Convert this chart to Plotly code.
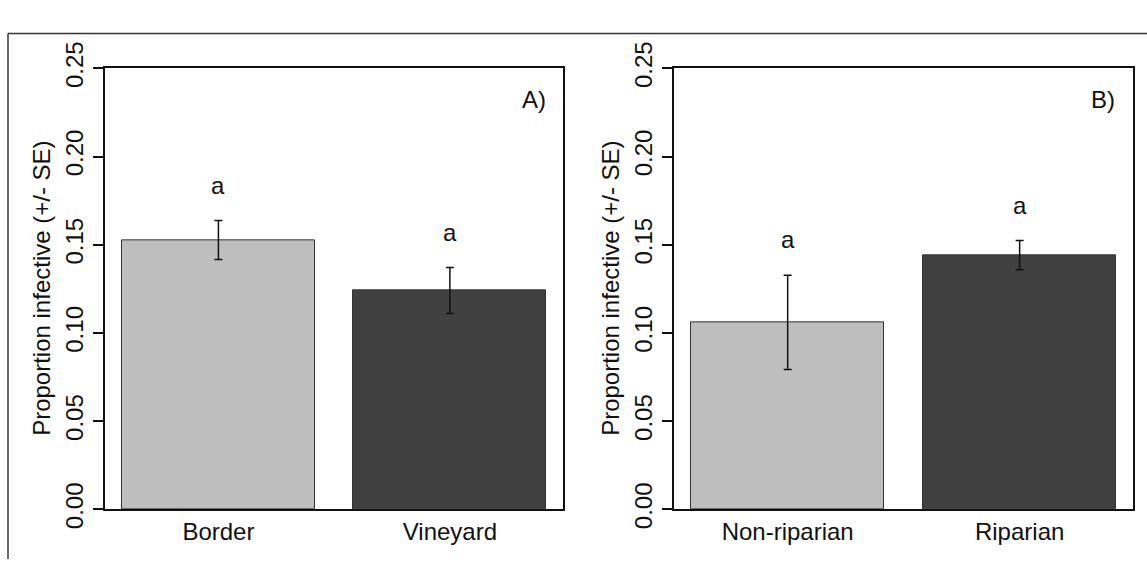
import plotly.graph_objects as go

# Panel A data
cats_a = ["Border", "Vineyard"]
means_a = [0.1527, 0.1241]
se_a = [0.0111, 0.0130]
letters_a = ["a", "a"]

# Panel B data
cats_b = ["Non-riparian", "Riparian"]
means_b = [0.1060, 0.1441]
se_b = [0.0267, 0.0083]
letters_b = ["a", "a"]

bar_colors = ["#bebebe", "#404040"]
y_ticks = [0.00, 0.05, 0.10, 0.15, 0.20, 0.25]
panel_labels = ["A)", "B)"]
y_title = "Proportion infective (+/- SE)"

FONT = "Liberation Sans, Arial, sans-serif"
FS = 24
W, H = 1147, 579

# bar geometry like R barplot (width 1, space 0.2, 4% extension)
centers = [0.7, 1.9]
xr = [0.112, 2.488]

fig = go.Figure()

panels = [
    (cats_a, means_a, se_a, letters_a, "x", "y", (105 / W, 563.3 / W)),
    (cats_b, means_b, se_b, letters_b, "x2", "y2", (674 / W, 1133.3 / W)),
]

ydom = (1 - 525 / H, 1 - 45 / H)

for i, (cats, means, se, lets, xa, ya, dom) in enumerate(panels):
    fig.add_trace(go.Bar(
        x=centers, y=means, width=1.0,
        marker=dict(color=bar_colors, line=dict(color="#333333", width=1)),
        error_y=dict(type="data", array=se, visible=True, color="#111111",
                     thickness=1.5, width=4),
        xaxis=xa, yaxis=ya, showlegend=False,
    ))
    for c, m, s, l in zip(centers, means, se, lets):
        fig.add_annotation(x=c, y=m + s + 0.02, text=l, showarrow=False,
                           xref=xa, yref=ya, xanchor="center", yanchor="middle",
                           font=dict(size=FS, color="#111111", family=FONT))
    sfx = "" if i == 0 else str(i + 1)
    fig.add_annotation(x=0.935, y=0.2323, xref=f"x{sfx} domain", yref=ya,
                       text=panel_labels[i], showarrow=False,
                       xanchor="center", yanchor="middle",
                       font=dict(size=FS, color="#111111", family=FONT))
    # y-axis title
    fig.add_annotation(x=(dom[0] * W - 63) / W, y=(ydom[0] + ydom[1]) / 2,
                       xref="paper", yref="paper", text=y_title, textangle=-90,
                       showarrow=False, xanchor="center", yanchor="middle",
                       font=dict(size=FS, color="#111111", family=FONT))
    xkey = "xaxis" if i == 0 else "xaxis2"
    ykey = "yaxis" if i == 0 else "yaxis2"
    fig.update_layout(**{
        xkey: dict(domain=list(dom), range=xr, tickvals=centers, ticktext=cats,
                   showline=True, linecolor="#111111", linewidth=1.5, mirror=True,
                   ticks="", showgrid=False, zeroline=False, anchor=ya,
                   ticklabelstandoff=0,
                   tickfont=dict(size=FS, color="#111111", family=FONT)),
        ykey: dict(domain=list(ydom), range=[0, 0.25], tickvals=y_ticks,
                   ticktext=[f"{v:.2f}" for v in y_ticks], tickangle=-90,
                   showline=True, linecolor="#111111", linewidth=1.5, mirror=True,
                   ticks="outside", ticklen=10, tickwidth=1.5, tickcolor="#111111",
                   showgrid=False, zeroline=False, anchor=xa,
                   ticklabelstandoff=1,
                   tickfont=dict(size=FS, color="#111111", family=FONT)),
    })

# outer frame (top and left edges visible)
fig.add_shape(type="line", xref="paper", yref="paper", x0=8 / W, x1=1, y0=1 - 7 / H, y1=1 - 7 / H,
              line=dict(color="#333333", width=1.5))
fig.add_shape(type="line", xref="paper", yref="paper", x0=8 / W, x1=8 / W, y0=0, y1=1 - 7 / H,
              line=dict(color="#333333", width=1.5))

fig.update_layout(
    width=W, height=H, margin=dict(l=0, r=0, t=0, b=0),
    paper_bgcolor="white", plot_bgcolor="white",
    bargap=0, showlegend=False,
)

fig.write_html("out.html")
